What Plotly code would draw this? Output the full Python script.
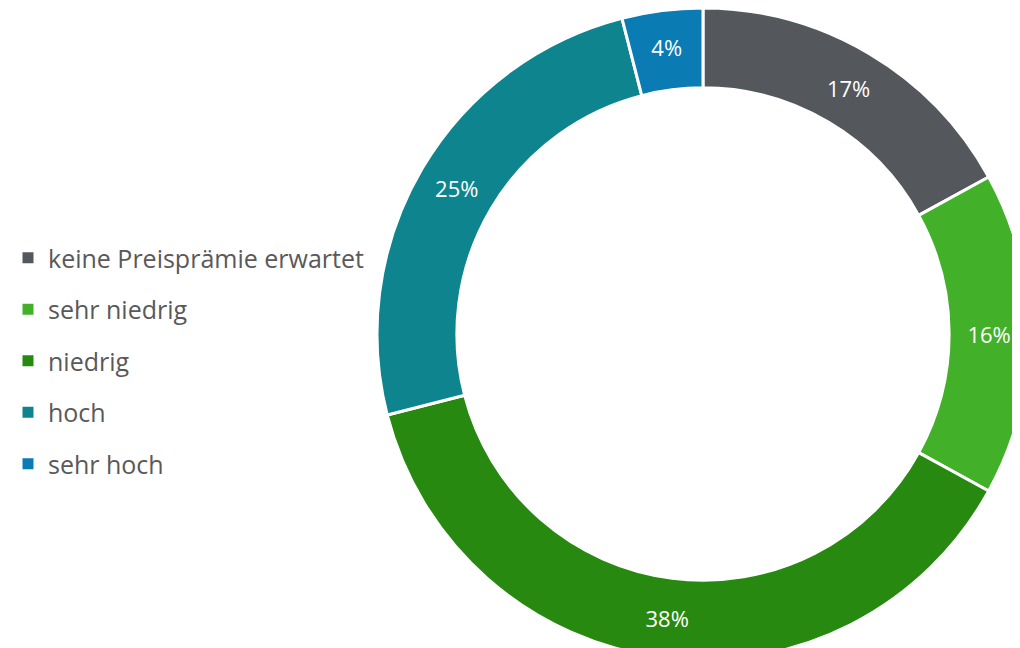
import plotly.graph_objects as go

labels = ["keine Preisprämie erwartet", "sehr niedrig", "niedrig", "hoch", "sehr hoch"]
values = [17, 16, 38, 25, 4]
colors = ["#54575c", "#43b02a", "#27890f", "#0e848f", "#0a7bb3"]

W, H = 1040, 660

fig = go.Figure()
fig.add_trace(go.Pie(
    labels=labels, values=values, sort=False, direction="clockwise", rotation=0,
    hole=0.755, marker=dict(colors=colors, line=dict(color="white", width=3)),
    textinfo="percent", texttemplate="%{percent:.0%}", textposition="inside",
    insidetextorientation="horizontal",
    textfont=dict(family="Open Sans", size=22, color="white"),
    domain=dict(x=[369 / W, 1021 / W], y=[8 / H, 1]), showlegend=False,
))

# legend entries as separate groups so the gap between them can be set
for lab, col in zip(labels, colors):
    fig.add_trace(go.Scatter(
        x=[None], y=[None], mode="markers", name=lab, legendgroup=lab,
        marker=dict(symbol="square", size=11, color=col),
    ))

fig.update_layout(
    width=W, height=H,
    margin=dict(l=0, r=0, t=0, b=0),
    paper_bgcolor="white", plot_bgcolor="white",
    xaxis=dict(visible=False), yaxis=dict(visible=False),
    legend=dict(x=0, y=1 - 353 / H, xanchor="left", yanchor="middle",
                font=dict(family="Open Sans", size=25, color="#595959"),
                tracegroupgap=16),
    font=dict(family="Open Sans"),
)

fig.write_html("out.html")
